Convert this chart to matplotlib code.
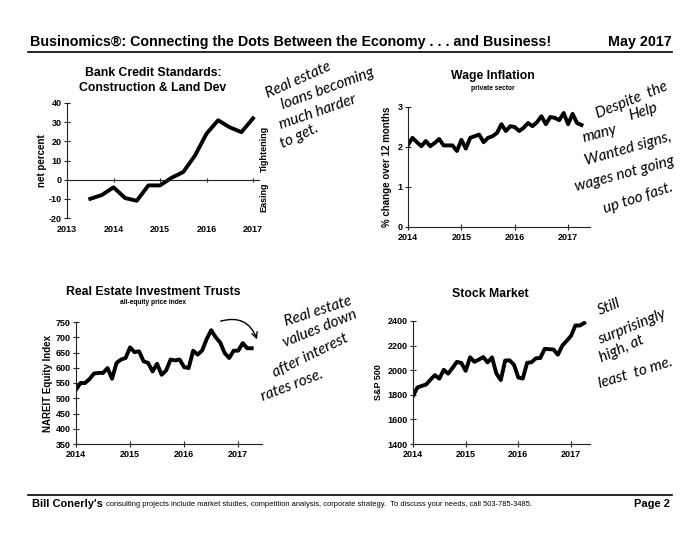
import matplotlib
matplotlib.use('Agg')
import matplotlib.pyplot as plt
import pandas as pd

# Data
bank_start = '2013Q3'
bank_vals = [-10, -8, -4, -9.6, -11, -3, -3, 1, 4, 12.5, 24, 31, 27.3, 24.8, 32]

wage_start = '2014-01'
wage_vals = [2.05, 2.23, 2.12, 2.02, 2.15, 2.02, 2.10, 2.20, 2.04, 2.04, 2.04, 1.90,
             2.18, 1.96, 2.23, 2.27, 2.31, 2.12, 2.23, 2.27, 2.35, 2.57, 2.40, 2.52,
             2.50, 2.40, 2.48, 2.60, 2.52, 2.62, 2.77, 2.57, 2.75, 2.73, 2.67, 2.85,
             2.57, 2.83, 2.60, 2.55]

reit_start = '2014-01'
reit_vals = [528, 550, 550, 563, 581, 583, 583, 599, 564, 616, 627, 632,
             667, 651, 654, 621, 616, 588, 613, 577, 591, 627, 624, 627,
             602, 599, 656, 643, 657, 694, 723, 700, 683, 648, 632, 656,
             656, 681, 664, 664]

sp_start = '2014-01'
sp_vals = [1790, 1860, 1872, 1884, 1924, 1960, 1931, 2003, 1972, 2018, 2068, 2059,
           1995, 2105, 2068, 2086, 2107, 2063, 2104, 1972, 1920, 2079, 2080, 2044,
           1940, 1932, 2060, 2065, 2097, 2099, 2174, 2171, 2168, 2126, 2199, 2239,
           2279, 2364, 2363, 2384]

years = [2013, 2014, 2015, 2016, 2017]

plt.rcParams['font.family'] = 'Liberation Sans'
plt.rcParams['font.weight'] = 'bold'
plt.rcParams['axes.labelweight'] = 'bold'
plt.rcParams['axes.unicode_minus'] = False

W, H = 700, 541
fig = plt.figure(figsize=(7, 5.41), dpi=100)


def fx(x):
    return x / W


def fy(y):
    return 1 - y / H


def decimal_years(start, n, freq):
    per = pd.period_range(start, periods=n, freq=freq)
    if freq == 'Q':
        return [p.year + (p.quarter - 1) / 4 for p in per]
    return [p.year + (p.month - 1) / 12 for p in per]


def make_axes(x0, x1, y0, y1):
    ax = fig.add_axes([x0 / W, 1 - y1 / H, (x1 - x0) / W, (y1 - y0) / H])
    for s in ['top', 'right']:
        ax.spines[s].set_visible(False)
    for s in ['left', 'bottom']:
        ax.spines[s].set_linewidth(0.8)
        ax.spines[s].set_color('#222222')
    ax.tick_params(direction='inout', length=4, width=0.8, labelsize=6.5, pad=2, color='#222222')
    return ax


def hand(x, y, s, rot, size=11):
    fig.text(fx(x), fy(y), s, ha='center', va='center', rotation=rot, rotation_mode='anchor',
             fontsize=size, family='Lato', style='italic', weight='normal', color='black')


# Header
fig.text(fx(30), fy(42), 'Businomics\u00ae: Connecting the Dots Between the Economy . . . and Business!',
         ha='left', va='center', fontsize=10.3)
fig.text(fx(672), fy(42), 'May 2017', ha='right', va='center', fontsize=10.3)
fig.add_artist(plt.Line2D([fx(28), fx(672)], [fy(52), fy(52)], color='black', lw=1.2))

# Bank credit standards
ax1 = make_axes(67, 260, 103, 218)
ax1.plot(decimal_years(bank_start, len(bank_vals), 'Q'), bank_vals, color='black', lw=2.8)
ax1.set_xlim(2013, 2017.15)
ax1.set_ylim(-20, 40)
ax1.set_yticks(range(-20, 41, 10))
ax1.set_xticks(years)
ax1.spines['bottom'].set_visible(False)
ax1.tick_params(axis='x', length=0, pad=5)
ax1.axhline(0, color='#222222', lw=0.8)
sec = ax1.secondary_xaxis(1 / 3)
sec.set_xticks(years[1:])
sec.set_xticklabels([])
sec.tick_params(direction='inout', length=3, width=0.8, color='#222222')
sec.spines['bottom'].set_visible(False)
ax1.set_ylabel('net percent', fontsize=7, labelpad=1)
fig.text(fx(153), fy(73), 'Bank Credit Standards:', ha='center', va='center', fontsize=8.8)
fig.text(fx(153), fy(88), 'Construction & Land Dev', ha='center', va='center', fontsize=8.8)
fig.text(fx(264), fy(149), 'Tightening', ha='center', va='center', rotation=90, fontsize=6.5)
fig.text(fx(264), fy(197), 'Easing', ha='center', va='center', rotation=90, fontsize=6.5)

# Wage inflation
ax2 = make_axes(408, 590, 107, 227)
ax2.plot(decimal_years(wage_start, len(wage_vals), 'M'), wage_vals, color='black', lw=2.8)
ax2.set_xlim(2014, 2017.41)
ax2.set_ylim(0, 3)
ax2.set_yticks([0, 1, 2, 3])
ax2.set_xticks(years[1:])
ax2.set_ylabel('% change over 12 months', fontsize=7, labelpad=4)
fig.text(fx(493), fy(76), 'Wage Inflation', ha='center', va='center', fontsize=8.8)
fig.text(fx(493), fy(88), 'private sector', ha='center', va='center', fontsize=4.8)

# REITs
ax3 = make_axes(76, 262, 322, 444)
ax3.plot(decimal_years(reit_start, len(reit_vals), 'M'), reit_vals, color='black', lw=2.8)
ax3.set_xlim(2014, 2017.44)
ax3.set_ylim(350, 750)
ax3.set_yticks(range(350, 751, 50))
ax3.set_xticks(years[1:])
ax3.set_ylabel('NAREIT Equity Index', fontsize=7, labelpad=2)
fig.text(fx(153), fy(292), 'Real Estate Investment Trusts', ha='center', va='center', fontsize=8.8)
fig.text(fx(153), fy(303), 'all-equity price index', ha='center', va='center', fontsize=4.8)

# Stock market
ax4 = make_axes(413, 590, 321, 444)
ax4.plot(decimal_years(sp_start, len(sp_vals), 'M'), sp_vals, color='black', lw=2.8)
ax4.set_xlim(2014, 2017.36)
ax4.set_ylim(1400, 2400)
ax4.set_yticks(range(1400, 2401, 200))
ax4.set_xticks(years[1:])
ax4.set_ylabel('S&P 500', fontsize=6.5, labelpad=3)
fig.text(fx(490), fy(294), 'Stock Market', ha='center', va='center', fontsize=8.8)

# Handwritten notes
hand(298, 80, 'Real estate', 24)
hand(328, 89, 'loans becoming', 20)
hand(318, 112, 'much harder', 19)
hand(299, 136, 'to get.', 25)

hand(632, 100, 'Despite  the', 22)
hand(600, 134, 'many', 15)
hand(643, 112, 'Help', 18)
hand(628, 149, 'Wanted signs,', 16)
hand(625, 174, 'wages not going', 15)
hand(638, 198, 'up too fast.', 18)

hand(318, 311, 'Real estate', 18)
hand(320, 329, 'values down', 22)
hand(310, 356, 'after interest', 26)
hand(292, 386, 'rates rose.', 21)
ax3.annotate('', xy=(fx(258), fy(342)), xytext=(fx(218), fy(322)),
             xycoords='figure fraction', textcoords='figure fraction', annotation_clip=False,
             arrowprops=dict(arrowstyle='->', connectionstyle='arc3,rad=-0.5', lw=1.0, color='black'))

hand(609, 307, 'Still', 22)
hand(632, 327, 'surprisingly', 22)
hand(622, 349, 'high, at', 24)
hand(636, 373, 'least  to me.', 17)

# Footer
fig.add_artist(plt.Line2D([fx(28), fx(672)], [fy(495), fy(495)], color='black', lw=1.2))
fig.text(fx(32), fy(504), "Bill Conerly's", ha='left', va='center', fontsize=8)
fig.text(fx(106), fy(504), 'consulting projects include market studies, competition analysis, corporate strategy.  '
         'To discuss your needs, call 503-785-3485.', ha='left', va='center', fontsize=5.4, weight='normal')
fig.text(fx(670), fy(504), 'Page 2', ha='right', va='center', fontsize=8)

fig.savefig('out.png', dpi=100)
